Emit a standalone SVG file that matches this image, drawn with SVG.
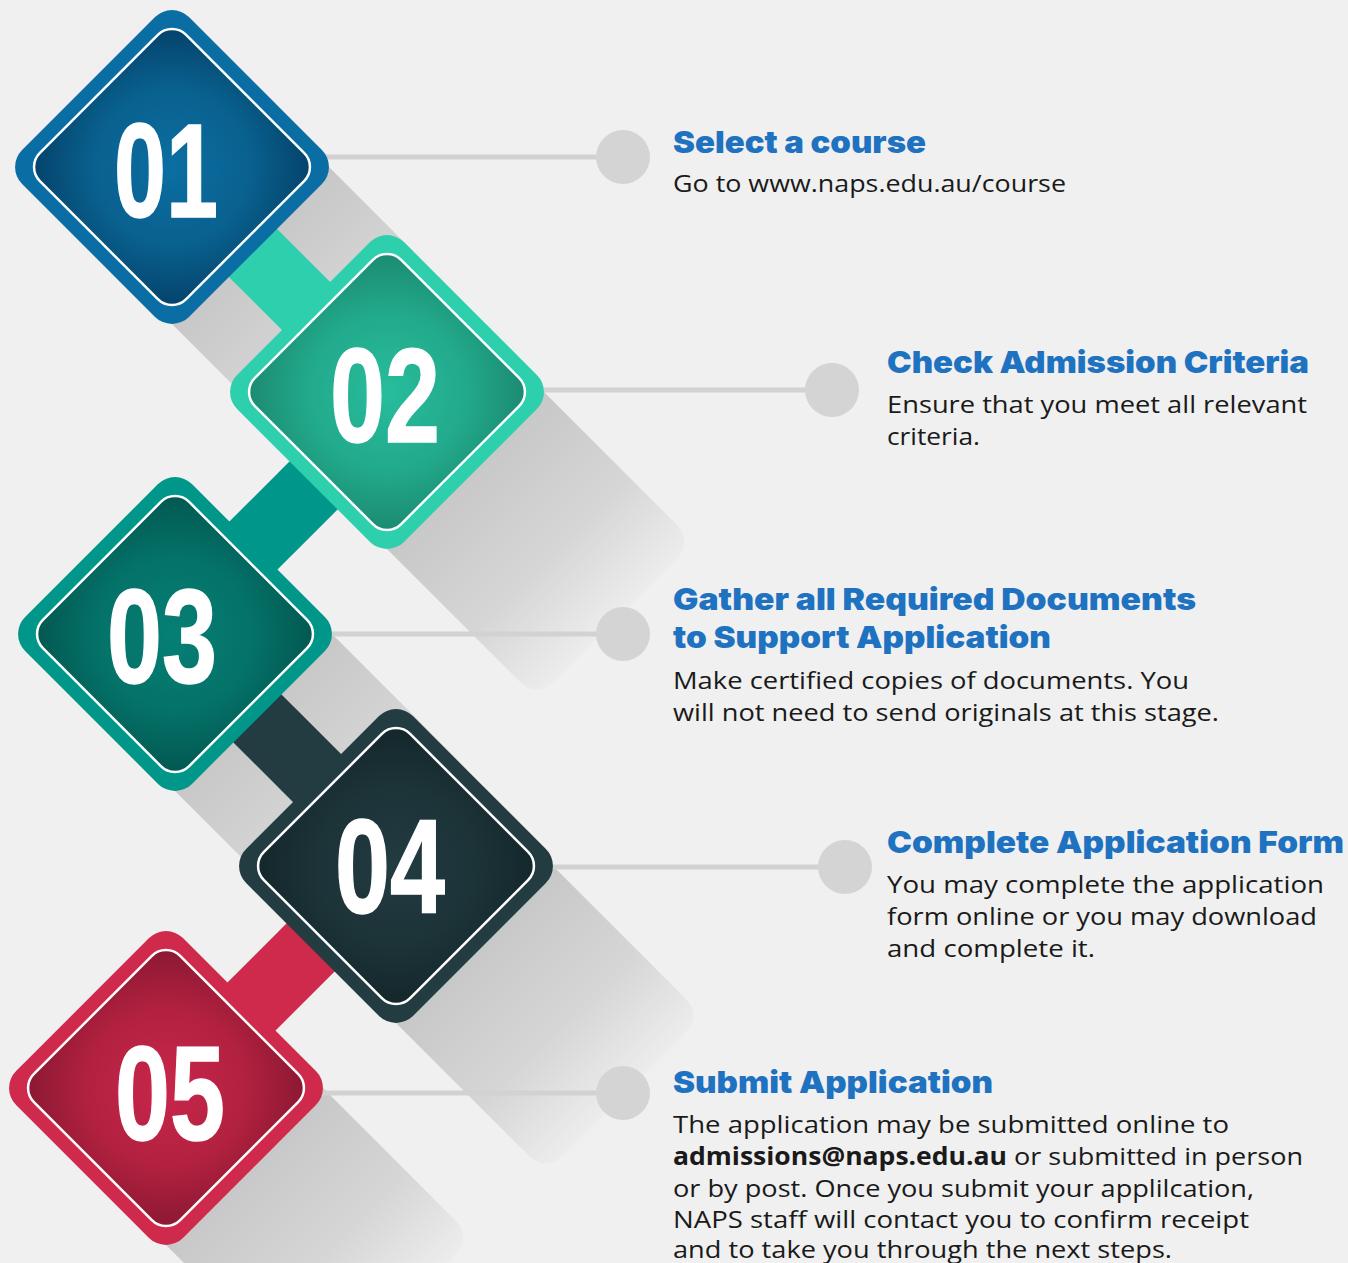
<svg xmlns="http://www.w3.org/2000/svg" xmlns:xlink="http://www.w3.org/1999/xlink" width="1348" height="1263" viewBox="0 0 1348 1263">
<style>
.title{font-family:Inter,'Open Sans','Liberation Sans',sans-serif;font-weight:900;font-size:30px;fill:#1f72c0}
.body{font-family:'Open Sans','Noto Sans','Liberation Sans',sans-serif;font-size:24.5px;fill:#1a1a1a}
.bold{font-weight:700}
.num{font-family:'Liberation Sans',Arial,sans-serif;font-weight:700;font-size:133px;fill:#fff;stroke:#fff;stroke-width:1.5;text-anchor:middle}
.hline{stroke:#d2d2d2;stroke-width:5}
.dot{fill:#d4d4d4}
.inner{stroke:#fff;stroke-width:2.5}
</style>
<defs>
<rect id="outer" x="-118" y="-118" width="236" height="236" rx="24"/>
<rect id="inner" x="-103.4" y="-103.4" width="206.8" height="206.8" rx="20"/>
<path id="shadow" d="M0,-157 L288,131 Q307,150 288,169 L169,288 Q150,307 131,288 L-157,0 Z"/>
<linearGradient id="sh" gradientUnits="userSpaceOnUse" x1="78" y1="78" x2="232" y2="232">
<stop offset="0" stop-color="#000" stop-opacity="0.17"/>
<stop offset="0.55" stop-color="#000" stop-opacity="0.11"/>
<stop offset="1" stop-color="#000" stop-opacity="0.01"/>
</linearGradient>
<radialGradient id="g1" cx="0.5" cy="0.5" r="0.68"><stop offset="0" stop-color="#0b6ea2"/><stop offset="0.55" stop-color="#09618f"/><stop offset="1" stop-color="#04426a"/></radialGradient>
<radialGradient id="g2" cx="0.5" cy="0.5" r="0.68"><stop offset="0" stop-color="#27bd9c"/><stop offset="0.55" stop-color="#22aa8c"/><stop offset="1" stop-color="#1b8a70"/></radialGradient>
<radialGradient id="g3" cx="0.5" cy="0.5" r="0.68"><stop offset="0" stop-color="#067f75"/><stop offset="0.55" stop-color="#047268"/><stop offset="1" stop-color="#025750"/></radialGradient>
<radialGradient id="g4" cx="0.5" cy="0.5" r="0.68"><stop offset="0" stop-color="#223c41"/><stop offset="0.55" stop-color="#1c3338"/><stop offset="1" stop-color="#14272b"/></radialGradient>
<radialGradient id="g5" cx="0.5" cy="0.5" r="0.68"><stop offset="0" stop-color="#c8264b"/><stop offset="0.55" stop-color="#b32140"/><stop offset="1" stop-color="#8a1832"/></radialGradient>
</defs>
<rect width="1348" height="1263" fill="#f0f0f0"/>
<g id="shadows" fill="url(#sh)">
<use xlink:href="#shadow" transform="translate(172 167)"/>
<use xlink:href="#shadow" transform="translate(387 392)"/>
<use xlink:href="#shadow" transform="translate(175 634)"/>
<use xlink:href="#shadow" transform="translate(396 866)"/>
<use xlink:href="#shadow" transform="translate(166 1088)"/>
</g>
<g id="connectors">
<line class="hline" x1="320" y1="157" x2="610" y2="157"/>
<line class="hline" x1="530" y1="390" x2="820" y2="390"/>
<line class="hline" x1="320" y1="634" x2="610" y2="634"/>
<line class="hline" x1="540" y1="867" x2="830" y2="867"/>
<line class="hline" x1="310" y1="1093" x2="610" y2="1093"/>
<rect x="-160" y="-34" width="320" height="68" fill="#2dcfad" transform="translate(280 280) rotate(45)"/>
<rect x="-160" y="-34" width="320" height="68" fill="#00968a" transform="translate(283 516) rotate(-45)"/>
<rect x="-160" y="-34" width="320" height="68" fill="#223c42" transform="translate(287 748) rotate(45)"/>
<rect x="-160" y="-34" width="320" height="68" fill="#cf2a4c" transform="translate(281 977) rotate(-45)"/>
</g>
<g id="step-01">
<use xlink:href="#outer" fill="#0a6ea4" transform="translate(172 167) rotate(45)"/>
<use xlink:href="#inner" class="inner" fill="url(#g1)" transform="translate(172 167) rotate(45)"/>
<text class="num" x="166" y="217" textLength="104" lengthAdjust="spacingAndGlyphs">01</text>
</g>
<g id="step-02">
<use xlink:href="#outer" fill="#2dcfad" transform="translate(387 392) rotate(45)"/>
<use xlink:href="#inner" class="inner" fill="url(#g2)" transform="translate(387 392) rotate(45)"/>
<text class="num" x="385" y="442" textLength="110" lengthAdjust="spacingAndGlyphs">02</text>
</g>
<g id="step-03">
<use xlink:href="#outer" fill="#00968a" transform="translate(175 634) rotate(45)"/>
<use xlink:href="#inner" class="inner" fill="url(#g3)" transform="translate(175 634) rotate(45)"/>
<text class="num" x="162" y="683" textLength="110" lengthAdjust="spacingAndGlyphs">03</text>
</g>
<g id="step-04">
<use xlink:href="#outer" fill="#223c42" transform="translate(396 866) rotate(45)"/>
<use xlink:href="#inner" class="inner" fill="url(#g4)" transform="translate(396 866) rotate(45)"/>
<text class="num" x="390" y="913" textLength="110" lengthAdjust="spacingAndGlyphs">04</text>
</g>
<g id="step-05">
<use xlink:href="#outer" fill="#cf2a4c" transform="translate(166 1088) rotate(45)"/>
<use xlink:href="#inner" class="inner" fill="url(#g5)" transform="translate(166 1088) rotate(45)"/>
<text class="num" x="170" y="1140" textLength="110" lengthAdjust="spacingAndGlyphs">05</text>
</g>
<g id="info-01">
<circle class="dot" cx="623" cy="157" r="27"/>
<text class="title" x="673" y="153" textLength="253" lengthAdjust="spacingAndGlyphs">Select a course</text>
<text class="body" x="673" y="192" textLength="393" lengthAdjust="spacingAndGlyphs">Go to www.naps.edu.au/course</text>
</g>
<g id="info-02">
<circle class="dot" cx="832" cy="390" r="27"/>
<text class="title" x="887" y="373" textLength="422" lengthAdjust="spacingAndGlyphs">Check Admission Criteria</text>
<text class="body" x="887" y="413" textLength="420" lengthAdjust="spacingAndGlyphs">Ensure that you meet all relevant</text>
<text class="body" x="887" y="445" textLength="93" lengthAdjust="spacingAndGlyphs">criteria.</text>
</g>
<g id="info-03">
<circle class="dot" cx="623" cy="634" r="27"/>
<text class="title" x="673" y="610" textLength="523" lengthAdjust="spacingAndGlyphs">Gather all Required Documents</text>
<text class="title" x="673" y="648" textLength="378" lengthAdjust="spacingAndGlyphs">to Support Application</text>
<text class="body" x="673" y="689" textLength="516" lengthAdjust="spacingAndGlyphs">Make certified copies of documents. You</text>
<text class="body" x="673" y="721" textLength="546" lengthAdjust="spacingAndGlyphs">will not need to send originals at this stage.</text>
</g>
<g id="info-04">
<circle class="dot" cx="845" cy="867" r="27"/>
<text class="title" x="887" y="853" textLength="457" lengthAdjust="spacingAndGlyphs">Complete Application Form</text>
<text class="body" x="887" y="893" textLength="437" lengthAdjust="spacingAndGlyphs">You may complete the application</text>
<text class="body" x="887" y="925" textLength="430" lengthAdjust="spacingAndGlyphs">form online or you may download</text>
<text class="body" x="887" y="957" textLength="208" lengthAdjust="spacingAndGlyphs">and complete it.</text>
</g>
<g id="info-05">
<circle class="dot" cx="623" cy="1093" r="27"/>
<text class="title" x="673" y="1093" textLength="320" lengthAdjust="spacingAndGlyphs">Submit Application</text>
<text class="body" x="673" y="1133" textLength="556" lengthAdjust="spacingAndGlyphs">The application may be submitted online to</text>
<text class="body bold" x="673" y="1165" textLength="334" lengthAdjust="spacingAndGlyphs">admissions@naps.edu.au</text>
<text class="body" x="1014" y="1165" textLength="289" lengthAdjust="spacingAndGlyphs">or submitted in person</text>
<text class="body" x="673" y="1197" textLength="581" lengthAdjust="spacingAndGlyphs">or by post. Once you submit your applilcation,</text>
<text class="body" x="673" y="1228" textLength="576" lengthAdjust="spacingAndGlyphs">NAPS staff will contact you to confirm receipt</text>
<text class="body" x="673" y="1258" textLength="499" lengthAdjust="spacingAndGlyphs">and to take you through the next steps.</text>
</g>
</svg>
